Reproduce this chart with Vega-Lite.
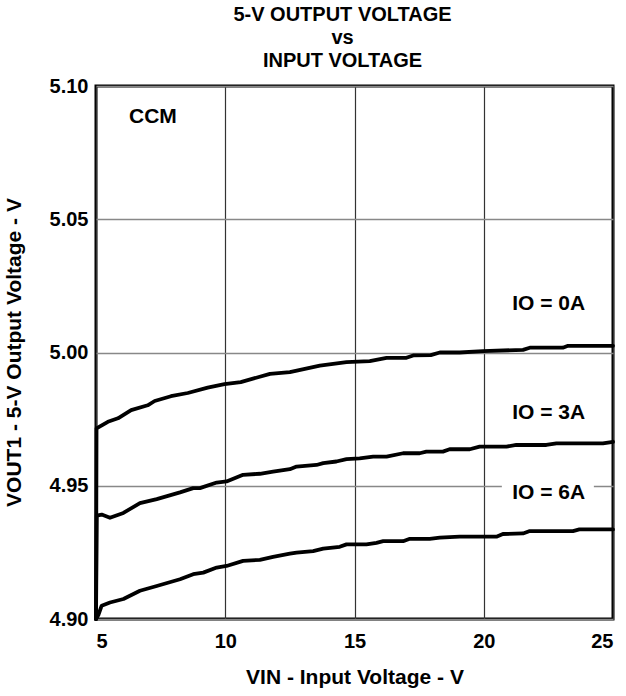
{
  "$schema": "https://vega.github.io/schema/vega-lite/v6.json",
  "width": 517,
  "height": 533,
  "autosize": {"type": "none"},
  "padding": {"left": 96, "top": 86, "right": 13, "bottom": 77},
  "background": "white",
  "config": {
    "font": "Liberation Sans",
    "view": {"stroke": "black", "strokeWidth": 3},
    "axis": {"domain": false, "ticks": false, "labelFont": "Liberation Sans", "titleFont": "Liberation Sans", "labelFontWeight": "bold", "titleFontWeight": "bold", "labelColor": "black", "titleColor": "black"}
  },
  "title": {
    "text": ["5-V OUTPUT VOLTAGE", "vs", "INPUT VOLTAGE"],
    "fontSize": 20,
    "fontWeight": "bold",
    "font": "Liberation Sans",
    "color": "black",
    "lineHeight": 23,
    "anchor": "middle",
    "baseline": "bottom",
    "offset": 15,
    "dx": -12,
    "dy": 30
  },
  "datasets": {
    "curves": [
      {"vin": 5.0, "vout": 4.900, "io": "0A"},
      {"vin": 5.02, "vout": 4.9715, "io": "0A"},
      {"vin": 5.46, "vout": 4.974, "io": "0A"},
      {"vin": 5.85, "vout": 4.9753, "io": "0A"},
      {"vin": 6.36, "vout": 4.9784, "io": "0A"},
      {"vin": 7.0, "vout": 4.9802, "io": "0A"},
      {"vin": 7.27, "vout": 4.9818, "io": "0A"},
      {"vin": 7.9, "vout": 4.9836, "io": "0A"},
      {"vin": 8.55, "vout": 4.9848, "io": "0A"},
      {"vin": 9.32, "vout": 4.9868, "io": "0A"},
      {"vin": 9.97, "vout": 4.9881, "io": "0A"},
      {"vin": 10.6, "vout": 4.9889, "io": "0A"},
      {"vin": 11.3, "vout": 4.9908, "io": "0A"},
      {"vin": 11.73, "vout": 4.992, "io": "0A"},
      {"vin": 12.5, "vout": 4.9926, "io": "0A"},
      {"vin": 13.66, "vout": 4.9951, "io": "0A"},
      {"vin": 14.69, "vout": 4.9964, "io": "0A"},
      {"vin": 15.59, "vout": 4.9968, "io": "0A"},
      {"vin": 16.24, "vout": 4.998, "io": "0A"},
      {"vin": 17.01, "vout": 4.998, "io": "0A"},
      {"vin": 17.27, "vout": 4.9989, "io": "0A"},
      {"vin": 17.95, "vout": 4.999, "io": "0A"},
      {"vin": 18.3, "vout": 5.0, "io": "0A"},
      {"vin": 19.07, "vout": 5.0, "io": "0A"},
      {"vin": 19.97, "vout": 5.0005, "io": "0A"},
      {"vin": 21.52, "vout": 5.001, "io": "0A"},
      {"vin": 21.78, "vout": 5.0018, "io": "0A"},
      {"vin": 23.06, "vout": 5.0018, "io": "0A"},
      {"vin": 23.26, "vout": 5.0025, "io": "0A"},
      {"vin": 25.0, "vout": 5.0025, "io": "0A"},

      {"vin": 5.0, "vout": 4.900, "io": "3A"},
      {"vin": 5.03, "vout": 4.9388, "io": "3A"},
      {"vin": 5.22, "vout": 4.9392, "io": "3A"},
      {"vin": 5.54, "vout": 4.938, "io": "3A"},
      {"vin": 6.06, "vout": 4.9398, "io": "3A"},
      {"vin": 6.7, "vout": 4.9435, "io": "3A"},
      {"vin": 7.35, "vout": 4.945, "io": "3A"},
      {"vin": 8.25, "vout": 4.9475, "io": "3A"},
      {"vin": 8.76, "vout": 4.9491, "io": "3A"},
      {"vin": 9.02, "vout": 4.9491, "io": "3A"},
      {"vin": 9.67, "vout": 4.9512, "io": "3A"},
      {"vin": 10.05, "vout": 4.9516, "io": "3A"},
      {"vin": 10.69, "vout": 4.9541, "io": "3A"},
      {"vin": 11.34, "vout": 4.9545, "io": "3A"},
      {"vin": 11.85, "vout": 4.9553, "io": "3A"},
      {"vin": 12.5, "vout": 4.9562, "io": "3A"},
      {"vin": 12.76, "vout": 4.9572, "io": "3A"},
      {"vin": 13.53, "vout": 4.9578, "io": "3A"},
      {"vin": 13.79, "vout": 4.9585, "io": "3A"},
      {"vin": 14.3, "vout": 4.9591, "io": "3A"},
      {"vin": 14.69, "vout": 4.96, "io": "3A"},
      {"vin": 15.2, "vout": 4.9603, "io": "3A"},
      {"vin": 15.72, "vout": 4.9609, "io": "3A"},
      {"vin": 16.24, "vout": 4.9609, "io": "3A"},
      {"vin": 16.88, "vout": 4.9622, "io": "3A"},
      {"vin": 17.52, "vout": 4.9622, "io": "3A"},
      {"vin": 17.78, "vout": 4.9628, "io": "3A"},
      {"vin": 18.42, "vout": 4.9628, "io": "3A"},
      {"vin": 18.68, "vout": 4.9637, "io": "3A"},
      {"vin": 19.46, "vout": 4.9637, "io": "3A"},
      {"vin": 19.84, "vout": 4.9647, "io": "3A"},
      {"vin": 20.88, "vout": 4.9647, "io": "3A"},
      {"vin": 21.26, "vout": 4.9653, "io": "3A"},
      {"vin": 22.42, "vout": 4.9653, "io": "3A"},
      {"vin": 22.81, "vout": 4.9659, "io": "3A"},
      {"vin": 24.61, "vout": 4.9659, "io": "3A"},
      {"vin": 25.0, "vout": 4.9665, "io": "3A"},

      {"vin": 5.0, "vout": 4.900, "io": "6A"},
      {"vin": 5.09, "vout": 4.9015, "io": "6A"},
      {"vin": 5.22, "vout": 4.905, "io": "6A"},
      {"vin": 5.54, "vout": 4.9062, "io": "6A"},
      {"vin": 6.06, "vout": 4.9075, "io": "6A"},
      {"vin": 6.7, "vout": 4.9106, "io": "6A"},
      {"vin": 7.35, "vout": 4.9124, "io": "6A"},
      {"vin": 8.25, "vout": 4.9149, "io": "6A"},
      {"vin": 8.76, "vout": 4.9168, "io": "6A"},
      {"vin": 9.15, "vout": 4.9174, "io": "6A"},
      {"vin": 9.67, "vout": 4.9193, "io": "6A"},
      {"vin": 10.05, "vout": 4.9199, "io": "6A"},
      {"vin": 10.69, "vout": 4.9218, "io": "6A"},
      {"vin": 11.34, "vout": 4.9222, "io": "6A"},
      {"vin": 11.85, "vout": 4.9233, "io": "6A"},
      {"vin": 12.5, "vout": 4.9245, "io": "6A"},
      {"vin": 12.76, "vout": 4.9249, "io": "6A"},
      {"vin": 13.4, "vout": 4.9255, "io": "6A"},
      {"vin": 13.79, "vout": 4.9264, "io": "6A"},
      {"vin": 14.43, "vout": 4.9271, "io": "6A"},
      {"vin": 14.69, "vout": 4.928, "io": "6A"},
      {"vin": 15.46, "vout": 4.928, "io": "6A"},
      {"vin": 15.85, "vout": 4.9286, "io": "6A"},
      {"vin": 16.11, "vout": 4.9292, "io": "6A"},
      {"vin": 16.88, "vout": 4.9292, "io": "6A"},
      {"vin": 17.14, "vout": 4.9301, "io": "6A"},
      {"vin": 17.91, "vout": 4.9301, "io": "6A"},
      {"vin": 18.3, "vout": 4.9305, "io": "6A"},
      {"vin": 19.07, "vout": 4.9309, "io": "6A"},
      {"vin": 20.49, "vout": 4.9309, "io": "6A"},
      {"vin": 20.74, "vout": 4.9319, "io": "6A"},
      {"vin": 21.52, "vout": 4.9321, "io": "6A"},
      {"vin": 21.78, "vout": 4.933, "io": "6A"},
      {"vin": 23.45, "vout": 4.933, "io": "6A"},
      {"vin": 23.7, "vout": 4.9336, "io": "6A"},
      {"vin": 25.0, "vout": 4.9336, "io": "6A"}
    ],
    "labels": [
      {"vin": 7.2, "vout": 5.0884, "label": "CCM"},
      {"vin": 22.51, "vout": 5.0183, "label": "IO = 0A"},
      {"vin": 22.51, "vout": 4.9773, "label": "IO = 3A"},
      {"vin": 22.51, "vout": 4.9474, "label": "IO = 6A"}
    ],
    "boxes": [
      {"x1": 20.7, "x2": 24.26, "y1": 4.9445, "y2": 4.9535}
    ]
  },
  "layer": [
    {
      "data": {"name": "boxes"},
      "mark": {"type": "rect", "color": "white"},
      "encoding": {
        "x": {"field": "x1", "type": "quantitative", "scale": {"domain": [5, 25], "nice": false}, "axis": {"values": [5, 10, 15, 20, 25], "grid": true, "gridColor": "#333333", "gridWidth": 1.2, "labelFontSize": 20, "labelPadding": 12, "title": "VIN - Input Voltage - V", "titleFontSize": 21, "titleBaseline": "middle", "titleY": 58}},
        "x2": {"field": "x2"},
        "y": {"field": "y1", "type": "quantitative", "scale": {"domain": [4.9, 5.1], "nice": false, "zero": false}, "axis": {"values": [4.9, 4.95, 5.0, 5.05, 5.1], "format": ".2f", "grid": true, "gridColor": "#888888", "gridWidth": 1.5, "labelFontSize": 20, "labelPadding": 8, "title": "VOUT1 - 5-V Output Voltage - V", "titleFontSize": 21, "titleBaseline": "middle", "titleX": -82, "titleY": 266}},
        "y2": {"field": "y2"}
      }
    },
    {
      "data": {"name": "curves"},
      "mark": {"type": "line", "color": "black", "strokeWidth": 3.8, "strokeJoin": "round", "strokeCap": "round", "clip": false},
      "encoding": {
        "x": {"field": "vin", "type": "quantitative"},
        "y": {"field": "vout", "type": "quantitative"},
        "detail": {"field": "io"}
      }
    },
    {
      "data": {"name": "labels"},
      "mark": {"type": "text", "fontSize": 21, "fontWeight": "bold", "font": "Liberation Sans", "color": "black", "align": "center", "baseline": "middle"},
      "encoding": {
        "x": {"field": "vin", "type": "quantitative"},
        "y": {"field": "vout", "type": "quantitative"},
        "text": {"field": "label"}
      }
    }
  ]
}
